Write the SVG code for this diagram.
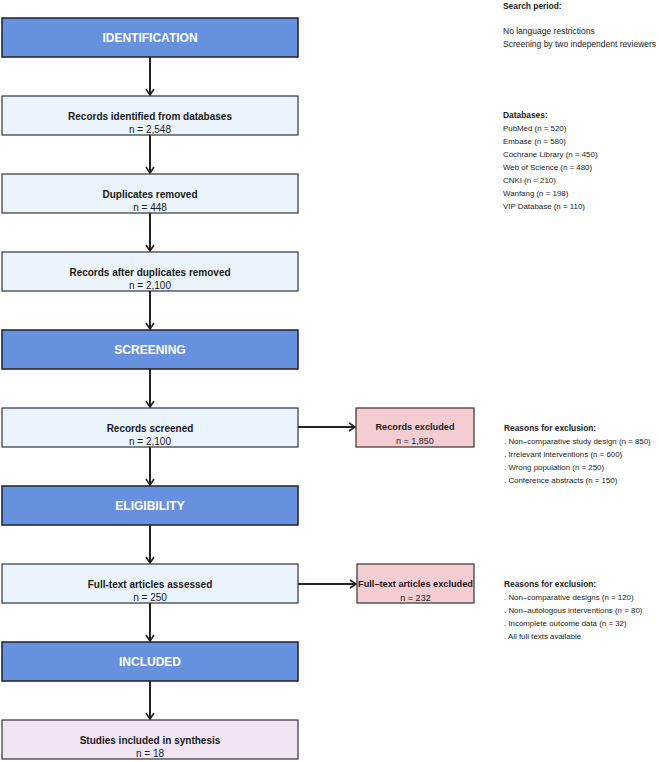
<svg xmlns="http://www.w3.org/2000/svg" width="659" height="762" viewBox="0 0 659 762">
<style>
text{font-family:"Liberation Sans",Arial,Helvetica,sans-serif;dominant-baseline:central}
.phase rect{fill:#6591DE;stroke:#222;stroke-width:1.5}
.phase text{fill:#fff;font-weight:bold;font-size:12px;text-anchor:middle}
.step rect{fill:#EBF3FD;stroke:#333;stroke-width:1.2}
.excl rect{fill:#F4CDD3;stroke:#333;stroke-width:1.2}
.final rect{fill:#F1E5F4;stroke:#333;stroke-width:1.2}
.t{font-weight:bold;font-size:10px;fill:#1a1a1a;text-anchor:middle}
.n{font-size:10px;fill:#1a1a1a;text-anchor:middle}
.excl .t{font-size:9.2px}
.excl .n{font-size:9px}
.side text{font-size:7.9px;fill:#222}
.side .h{font-weight:bold;font-size:8.4px}
.side .s{font-size:8.5px}
.conn line{stroke:#222;stroke-width:2}
</style>
<defs>
<marker id="ah" markerUnits="userSpaceOnUse" viewBox="-8 -6 10 12" refX="0" refY="0" markerWidth="10" markerHeight="12" orient="auto">
<path d="M-6,-4 L0,0 L-6,4" fill="none" stroke="#222" stroke-width="1.6"/>
</marker>
</defs>

<g id="connectors" class="conn">
<line x1="150" y1="57" x2="150" y2="95" marker-end="url(#ah)"/>
<line x1="150" y1="135" x2="150" y2="173" marker-end="url(#ah)"/>
<line x1="150" y1="213" x2="150" y2="251" marker-end="url(#ah)"/>
<line x1="150" y1="291" x2="150" y2="329" marker-end="url(#ah)"/>
<line x1="150" y1="369" x2="150" y2="407" marker-end="url(#ah)"/>
<line x1="150" y1="447" x2="150" y2="485" marker-end="url(#ah)"/>
<line x1="150" y1="525" x2="150" y2="563" marker-end="url(#ah)"/>
<line x1="150" y1="603" x2="150" y2="641" marker-end="url(#ah)"/>
<line x1="150" y1="681" x2="150" y2="719" marker-end="url(#ah)"/>
<line x1="298" y1="427" x2="355" y2="427" marker-end="url(#ah)"/>
<line x1="298" y1="584" x2="356" y2="584" marker-end="url(#ah)"/>
</g>

<g id="identification" class="phase"><rect x="2" y="18" width="296" height="39"/><text x="150" y="38">IDENTIFICATION</text></g>
<g id="records-identified" class="step"><rect x="2" y="96" width="296" height="39"/><text class="t" x="150" y="116">Records identified from databases</text><text class="n" x="150" y="129">n = 2,548</text></g>
<g id="duplicates-removed" class="step"><rect x="2" y="174" width="296" height="39"/><text class="t" x="150" y="194">Duplicates removed</text><text class="n" x="150" y="207">n = 448</text></g>
<g id="records-after-duplicates" class="step"><rect x="2" y="252" width="296" height="39"/><text class="t" x="150" y="272">Records after duplicates removed</text><text class="n" x="150" y="285">n = 2,100</text></g>
<g id="screening" class="phase"><rect x="2" y="330" width="296" height="39"/><text x="150" y="350">SCREENING</text></g>
<g id="records-screened" class="step"><rect x="2" y="408" width="296" height="39"/><text class="t" x="150" y="428">Records screened</text><text class="n" x="150" y="441">n = 2,100</text></g>
<g id="records-excluded" class="excl"><rect x="356" y="408" width="118" height="39"/><text class="t" x="415" y="427">Records excluded</text><text class="n" x="415" y="441">n = 1,850</text></g>
<g id="eligibility" class="phase"><rect x="2" y="486" width="296" height="39"/><text x="150" y="506">ELIGIBILITY</text></g>
<g id="fulltext-assessed" class="step"><rect x="2" y="564" width="296" height="39"/><text class="t" x="150" y="584">Full-text articles assessed</text><text class="n" x="150" y="597">n = 250</text></g>
<g id="fulltext-excluded" class="excl"><rect x="357" y="564" width="117" height="39"/><text class="t" x="415.5" y="584">Full–text articles excluded</text><text class="n" x="415.5" y="598">n = 232</text></g>
<g id="included" class="phase"><rect x="2" y="642" width="296" height="39"/><text x="150" y="662">INCLUDED</text></g>
<g id="studies-included" class="final"><rect x="2" y="720" width="296" height="39"/><text class="t" x="150" y="740">Studies included in synthesis</text><text class="n" x="150" y="753">n = 18</text></g>

<g id="search-notes" class="side">
<text class="h" x="503" y="6">Search period:</text>
<text class="s" x="503" y="31">No language restrictions</text>
<text class="s" x="503" y="43.5">Screening by two independent reviewers</text>
</g>
<g id="databases-notes" class="side">
<text class="h" x="503" y="115">Databases:</text>
<text x="503" y="128">PubMed (n = 520)</text>
<text x="503" y="141">Embase (n = 580)</text>
<text x="503" y="154">Cochrane Library (n = 450)</text>
<text x="503" y="167">Web of Science (n = 480)</text>
<text x="503" y="180">CNKI (n = 210)</text>
<text x="503" y="193">Wanfang (n = 198)</text>
<text x="503" y="206">VIP Database (n = 110)</text>
</g>
<g id="screening-reasons" class="side">
<text class="h" x="504" y="428">Reasons for exclusion:</text>
<text x="504" y="441">. Non–comparative study design (n = 850)</text>
<text x="504" y="454">. Irrelevant interventions (n = 600)</text>
<text x="504" y="467">. Wrong population (n = 250)</text>
<text x="504" y="480">. Conference abstracts (n = 150)</text>
</g>
<g id="fulltext-reasons" class="side">
<text class="h" x="504" y="584">Reasons for exclusion:</text>
<text x="504" y="597">. Non–comparative designs (n = 120)</text>
<text x="504" y="610">. Non–autologous interventions (n = 80)</text>
<text x="504" y="623">. Incomplete outcome data (n = 32)</text>
<text x="504" y="636">. All full texts available</text>
</g>
</svg>
